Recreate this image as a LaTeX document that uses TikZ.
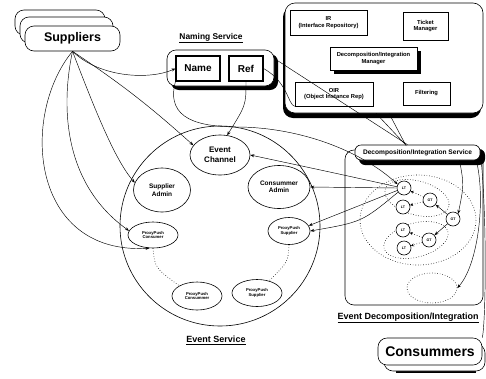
\documentclass[tikz,border=0pt]{standalone}
\usepackage{fontspec}
\setmainfont{Liberation Sans}
\usetikzlibrary{arrows.meta,shapes.geometric,calc}
\tikzset{
  wire/.style={line width=.45pt},
  arr/.style={wire, -{Stealth[length=4pt,width=3pt]}},
  dots/.style={line width=.6pt, dotted},
  pill/.style={
    draw,
    line width=.6pt,
    fill=white,
    rounded corners=9pt
  },
  panel/.style={
    draw,
    line width=.6pt,
    fill=white,
    align=center,
    inner sep=1pt,
    font=\bfseries\fontsize{5.8}{6.6}\selectfont
  },
  key/.style={
    draw,
    line width=1.1pt,
    fill=white,
    font=\bfseries\fontsize{10}{12}\selectfont
  },
  oval/.style={
    ellipse,
    draw,
    line width=.6pt,
    fill=white,
    align=center,
    inner sep=0pt
  },
  tiny/.style={font=\bfseries\fontsize{4.2}{4.8}\selectfont},
  mid/.style={font=\bfseries\fontsize{6.5}{7.5}\selectfont},
  agent/.style={
    circle,
    draw,
    line width=.6pt,
    fill=white,
    minimum size=14pt,
    inner sep=0pt,
    font=\bfseries\fontsize{3.6}{4}\selectfont
  },
  heading/.style={font=\bfseries\fontsize{9}{10}\selectfont}
}
\begin{document}
\begin{tikzpicture}[x=1pt,y=-1pt]
  \useasboundingbox (0,0) rectangle (486,378);

  \draw[pill] (15,10) rectangle (105,35);
  \draw[pill] (20,17) rectangle (113,43);
  \node[pill, minimum width=95pt, minimum height=25pt,
    font=\bfseries\fontsize{12.5}{14}\selectfont] (sup) at (72.5,38.5) {Suppliers};

  \node[heading, font=\bfseries\fontsize{8.4}{10}\selectfont] (nstitle) at (211,38)
    {\underline{Naming Service}};
  \fill[rounded corners=8pt] (171,54) rectangle (278,90);
  \node[pill, minimum width=107pt, minimum height=36pt] (ns) at (220.5,68) {};
  \node[key, minimum width=44pt, minimum height=25pt] (name) at (198,68.5) {Name};
  \node[key, minimum width=34pt, minimum height=25pt] (ref) at (246,68.5) {Ref};

  \fill[rounded corners=10pt] (283,7) rectangle (481,118);
  \node[pill, rounded corners=10pt, minimum width=198pt, minimum height=110pt] (orb)
    at (384,58) {};
  \node[panel, minimum width=77pt, minimum height=25pt] (ir) at (328.5,22.5)
    {IR\\(Interface Repository)};
  \node[panel, minimum width=45pt, minimum height=28pt] (tm) at (425.5,26)
    {Ticket\\Manager};
  \fill (334,51) rectangle (421,74);
  \node[panel, minimum width=87pt, minimum height=23pt] (dim) at (373.5,58.5)
    {Decomposition/Integration\\Manager};
  \node[panel, minimum width=78pt, minimum height=24pt] (oir) at (334,94)
    {OIR\\(Object Instance Rep)};
  \node[panel, minimum width=47pt, minimum height=23pt] (fil) at (426.5,93.5)
    {Filtering};

  \node[circle, draw, line width=.6pt, minimum size=200pt] (es) at (220,226) {};
  \node[heading] (estitle) at (216,340) {\underline{Event Service}};
  \node[oval, minimum width=60pt, minimum height=40pt,
    font=\bfseries\fontsize{8}{9.5}\selectfont] (ec) at (220,155) {Event\\Channel};
  \node[oval, mid, minimum width=57pt, minimum height=44pt] (sa) at (162,190)
    {Supplier\\Admin};
  \node[oval, mid, minimum width=62pt, minimum height=43pt] (ca) at (279,187)
    {Consummer\\Admin};
  \node[oval, tiny, minimum width=50pt, minimum height=26pt] (ppc) at (153,235)
    {ProxyPush\\Consumer};
  \node[oval, tiny, minimum width=42pt, minimum height=27pt] (pps) at (289,231)
    {ProxyPush\\Supplier};
  \node[oval, tiny, minimum width=50pt, minimum height=28pt] (ppcb) at (197,296)
    {ProxyPush\\Consummer};
  \node[oval, tiny, minimum width=50pt, minimum height=27pt] (ppsb) at (257,293)
    {ProxyPush\\Supplier};

  \draw[line width=.6pt, rounded corners=9pt] (345,150) rectangle (483,305);
  \fill[rounded corners=6pt] (359,149) rectangle (485,165);
  \node[pill, rounded corners=6pt, minimum width=125pt, minimum height=15pt,
    font=\bfseries\fontsize{6.6}{7}\selectfont] (dis) at (417.5,152.5)
    {Decomposition/Integration Service};
  \node[heading] (edtitle) at (408,318) {\underline{Event Decomposition/Integration}};

  \draw[dots] (418,220) ellipse (58 and 45);
  \draw[dots, rotate around={-15:(417,198)}] (417,198) ellipse (33 and 17);
  \draw[dots, rotate around={15:(416,240)}] (416,240) ellipse (33 and 17);
  \node[ellipse, draw, dotted, line width=.6pt, minimum width=50pt, minimum height=30pt]
    (dz) at (432,288) {};

  \node[agent] (lt1) at (404,188) {LT};
  \node[agent] (lt2) at (403,207) {LT};
  \node[agent] (lt3) at (403,230) {LT};
  \node[agent] (lt4) at (404,248) {LT};
  \node[agent] (gt1) at (430,200) {GT};
  \node[agent] (gt2) at (453,219) {GT};
  \node[agent] (gt3) at (429,240) {GT};

  \draw[line width=2.5pt] (396,372) -- (476,372);
  \draw[pill] (384,344) rectangle (485,371);
  \node[pill, minimum width=104pt, minimum height=27pt,
    font=\bfseries\fontsize{14}{16}\selectfont] (cons) at (430,351.5) {Consummers};

  \draw[arr] (sup.south) .. controls (100,78) and (150,80) .. (name.west);
  \draw[arr] (sup.south) to[bend left=4] (ec.160);
  \draw[arr] (sup.south) .. controls (95,110) and (115,160) .. (sa.165);
  \draw[arr] (sup.south) .. controls (60,110) and (65,185) .. (ppc.170);
  \draw[arr] (sup.south) .. controls (20,115) and (30,255) .. (ppc.255);

  \draw[arr] (ref.south) .. controls (246,105) .. (ec.70);
  \draw[arr] (name.south west) .. controls (165,120) and (200,127) .. (240,127)
    .. controls (300,128) and (360,150) .. (lt1.150);
  \draw[wire] (ref.east) .. controls (288,82) and (288,105) .. (oir.south west);
  \draw[wire] (ns.10) -- ([xshift=-10pt]dis.north);
  \draw[wire] ([xshift=-8pt]orb.south) -- ([xshift=-12pt]dis.north)
    -- ([xshift=5pt]orb.south);

  \draw[arr] (lt1.170) .. controls (330,172) .. (ec.east);
  \draw[arr] (lt1.west) -- (ca.east);
  \draw[arr] (lt1.200) -- (pps.15);
  \draw[arr] (lt1.215) .. controls (362,222) .. (pps.east);

  \draw[arr] (gt2) -- (gt1);
  \draw[arr] (gt2) -- (gt3);
  \draw[dots, -{Stealth[length=3pt,width=3pt]}] (gt1) -- (lt1);
  \draw[dots, -{Stealth[length=3pt,width=3pt]}] (gt1) -- (lt2);
  \draw[dots, -{Stealth[length=3pt,width=3pt]}] (gt3) -- (lt3);
  \draw[dots, -{Stealth[length=3pt,width=3pt]}] (gt3) -- (lt4);
  \draw[arr] ([xshift=42pt]dis.south) .. controls (464,185) .. (gt2.north east);
  \draw[arr] ([xshift=-4pt]dis.south east) .. controls (486,200) and (478,265) .. (dz.east);
  \draw[wire] (dis.east) .. controls (487,210) and (486,320) .. (cons.north east);

  \draw[dots] (ppc.south) .. controls (155,268) .. (ppcb.150);
  \draw[dots] (pps.south) .. controls (288,262) .. (ppsb.45);
\end{tikzpicture}
\end{document}
